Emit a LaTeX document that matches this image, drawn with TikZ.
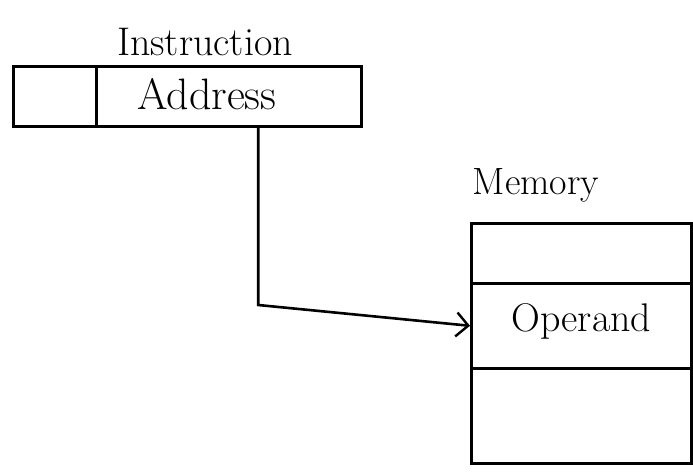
\documentclass[tikz,border=0pt]{standalone}
\usepackage{fontspec}
\setmainfont{Latin Modern Roman}
\usetikzlibrary{arrows.meta,calc}
\tikzset{
  cell/.style={draw=black, line width=2.6pt, minimum height=#1, inner sep=0pt, anchor=north west},
  lbl/.style={font=\fontsize{#1}{#1}\selectfont, inner sep=0pt},
  link/.style={draw=black, line width=2.6pt, -{Straight Barb[length=12pt,width=24pt,line width=2.4pt]}}
}
\begin{document}
\begin{tikzpicture}[x=1pt,y=-1pt]
\useasboundingbox (0,0) rectangle (693,474);
% instruction
\node[lbl=40] (itext) at (205,42) {Instruction};
\node[cell=60pt, minimum width=83pt] (opc) at (12,65) {};
\node[cell=60pt, minimum width=265pt] (addr) at (95,65) {};
\node[lbl=44] (addrtext) at ([xshift=-22pt,yshift=2pt]addr.center) {Address};
% memory
\node[lbl=38] (mtext) at (536,185) {Memory};
\node[cell=60pt, minimum width=220pt] (m1) at (470,222) {};
\node[cell=85pt, minimum width=220pt] (m2) at (470,282) {};
\node[cell=95pt, minimum width=220pt] (m3) at (470,367) {};
\node[lbl=40] (optext) at ([xshift=0pt,yshift=4pt]m2.center) {Operand};
% connector
\coordinate (start) at ($(addr.south west)!0.61!(addr.south east)$);
\coordinate (corner) at (start |- 0,305);
\draw[link] (start) -- (corner) -- (m2.west);
\end{tikzpicture}
\end{document}
